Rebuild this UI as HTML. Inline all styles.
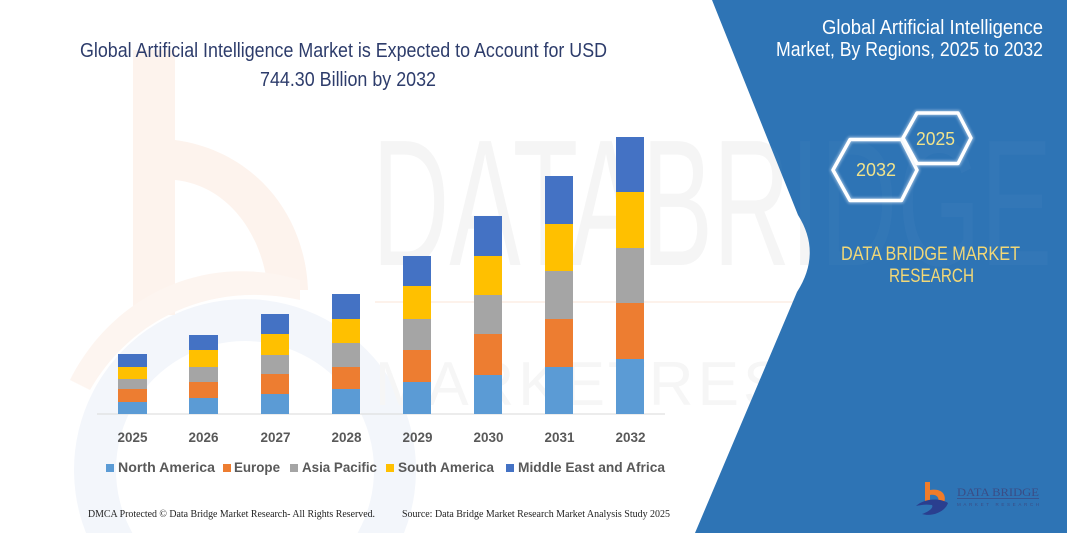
<!DOCTYPE html>
<html><head><meta charset="utf-8"><style>
html,body{margin:0;padding:0;background:#fff;width:1067px;height:533px;overflow:hidden;}
svg{display:block;}
</style></head><body>
<svg width="1067" height="533" viewBox="0 0 1067 533" xmlns="http://www.w3.org/2000/svg">
<defs>
<clipPath id="panel"><path d="M712,0 L1067,0 L1067,533 L695,533 L797,292 Q822,253 798,215 Z"/></clipPath>
<filter id="glow" x="-20%" y="-20%" width="140%" height="140%"><feGaussianBlur stdDeviation="1.2"/></filter>
</defs>
<rect width="1067" height="533" fill="#ffffff"/>
<!-- faint watermark -->
<g>
<path d="M86,533 A171,171 0 1 1 404,533 L357.6,533 A129,129 0 1 0 132.4,533 Z" fill="#f3f6fb"/>
<rect x="133" y="50" width="42" height="265" fill="#fdf3ed"/>
<path d="M175,140 C250,150 305,210 308,290 L268,290 C262,230 225,185 175,180 Z" fill="#fdf3ed"/>
<path d="M70,380 C110,300 200,250 300,280 L300,300 C210,280 130,320 90,390 Z" fill="#fdf5f0"/>
<text x="372" y="265" font-family="Liberation Sans, sans-serif" font-size="180" fill="#f5f5f5" textLength="680" lengthAdjust="spacingAndGlyphs">DATABRIDGE</text>
<rect x="375" y="301" width="440" height="2" fill="#fdf2eb"/>
<text x="375" y="405" font-family="Liberation Sans, sans-serif" font-size="62" fill="#f6f6f6" textLength="640" lengthAdjust="spacing">M A R K E T  R E S E A R C H</text>
</g>
<!-- blue panel -->
<path d="M712,0 L1067,0 L1067,533 L695,533 L797,292 Q822,253 798,215 Z" fill="#2E74B5"/>
<g clip-path="url(#panel)" opacity="0.025">
<text x="372" y="265" font-family="Liberation Sans, sans-serif" font-size="180" fill="#ffffff" textLength="680" lengthAdjust="spacingAndGlyphs">DATABRIDGE</text>
</g>
<!-- left title -->
<text x="80" y="57" font-family="Liberation Sans, sans-serif" font-size="20" fill="#2d3c6b" textLength="527" lengthAdjust="spacingAndGlyphs">Global Artificial Intelligence Market is Expected to Account for USD</text>
<text x="260" y="86" font-family="Liberation Sans, sans-serif" font-size="20" fill="#2d3c6b" textLength="176" lengthAdjust="spacingAndGlyphs">744.30 Billion by 2032</text>
<!-- axis -->
<rect x="97" y="413.5" width="568" height="1" fill="#d9d9d9"/>
<!-- bars -->
<g id="bars">
<rect x="118" y="402" width="29" height="12" fill="#5B9BD5"/>
<rect x="118" y="389" width="29" height="13" fill="#ED7D31"/>
<rect x="118" y="379" width="29" height="10" fill="#A5A5A5"/>
<rect x="118" y="367" width="29" height="12" fill="#FFC000"/>
<rect x="118" y="354" width="29" height="13" fill="#4472C4"/>
<rect x="189" y="398" width="29" height="16" fill="#5B9BD5"/>
<rect x="189" y="382" width="29" height="16" fill="#ED7D31"/>
<rect x="189" y="367" width="29" height="15" fill="#A5A5A5"/>
<rect x="189" y="350" width="29" height="17" fill="#FFC000"/>
<rect x="189" y="335" width="29" height="15" fill="#4472C4"/>
<rect x="261" y="394" width="28" height="20" fill="#5B9BD5"/>
<rect x="261" y="374" width="28" height="20" fill="#ED7D31"/>
<rect x="261" y="355" width="28" height="19" fill="#A5A5A5"/>
<rect x="261" y="334" width="28" height="21" fill="#FFC000"/>
<rect x="261" y="314" width="28" height="20" fill="#4472C4"/>
<rect x="332" y="389" width="28" height="25" fill="#5B9BD5"/>
<rect x="332" y="367" width="28" height="22" fill="#ED7D31"/>
<rect x="332" y="343" width="28" height="24" fill="#A5A5A5"/>
<rect x="332" y="319" width="28" height="24" fill="#FFC000"/>
<rect x="332" y="294" width="28" height="25" fill="#4472C4"/>
<rect x="403" y="382" width="28" height="32" fill="#5B9BD5"/>
<rect x="403" y="350" width="28" height="32" fill="#ED7D31"/>
<rect x="403" y="319" width="28" height="31" fill="#A5A5A5"/>
<rect x="403" y="286" width="28" height="33" fill="#FFC000"/>
<rect x="403" y="256" width="28" height="30" fill="#4472C4"/>
<rect x="474" y="375" width="28" height="39" fill="#5B9BD5"/>
<rect x="474" y="334" width="28" height="41" fill="#ED7D31"/>
<rect x="474" y="295" width="28" height="39" fill="#A5A5A5"/>
<rect x="474" y="256" width="28" height="39" fill="#FFC000"/>
<rect x="474" y="216" width="28" height="40" fill="#4472C4"/>
<rect x="545" y="367" width="28" height="47" fill="#5B9BD5"/>
<rect x="545" y="319" width="28" height="48" fill="#ED7D31"/>
<rect x="545" y="271" width="28" height="48" fill="#A5A5A5"/>
<rect x="545" y="224" width="28" height="47" fill="#FFC000"/>
<rect x="545" y="176" width="28" height="48" fill="#4472C4"/>
<rect x="616" y="359" width="28" height="55" fill="#5B9BD5"/>
<rect x="616" y="303" width="28" height="56" fill="#ED7D31"/>
<rect x="616" y="248" width="28" height="55" fill="#A5A5A5"/>
<rect x="616" y="192" width="28" height="56" fill="#FFC000"/>
<rect x="616" y="137" width="28" height="55" fill="#4472C4"/>
</g>
<!-- year labels -->
<g font-family="Liberation Sans, sans-serif" font-size="14" font-weight="bold" fill="#595959">
<text x="117.5" y="442" textLength="30" lengthAdjust="spacingAndGlyphs">2025</text>
<text x="188.5" y="442" textLength="30" lengthAdjust="spacingAndGlyphs">2026</text>
<text x="260.5" y="442" textLength="30" lengthAdjust="spacingAndGlyphs">2027</text>
<text x="331.5" y="442" textLength="30" lengthAdjust="spacingAndGlyphs">2028</text>
<text x="402.5" y="442" textLength="30" lengthAdjust="spacingAndGlyphs">2029</text>
<text x="473.5" y="442" textLength="30" lengthAdjust="spacingAndGlyphs">2030</text>
<text x="544.5" y="442" textLength="30" lengthAdjust="spacingAndGlyphs">2031</text>
<text x="615.5" y="442" textLength="30" lengthAdjust="spacingAndGlyphs">2032</text>
</g>
<!-- legend -->
<rect x="106" y="464" width="8" height="8" fill="#5B9BD5"/>
<rect x="223" y="464" width="8" height="8" fill="#ED7D31"/>
<rect x="290" y="464" width="8" height="8" fill="#A5A5A5"/>
<rect x="386" y="464" width="8" height="8" fill="#FFC000"/>
<rect x="506" y="464" width="8" height="8" fill="#4472C4"/>
<g font-family="Liberation Sans, sans-serif" font-size="14" font-weight="bold" fill="#595959">
<text x="118" y="472" textLength="97" lengthAdjust="spacingAndGlyphs">North America</text>
<text x="234" y="472" textLength="46" lengthAdjust="spacingAndGlyphs">Europe</text>
<text x="302" y="472" textLength="75" lengthAdjust="spacingAndGlyphs">Asia Pacific</text>
<text x="398" y="472" textLength="96" lengthAdjust="spacingAndGlyphs">South America</text>
<text x="518" y="472" textLength="147" lengthAdjust="spacingAndGlyphs">Middle East and Africa</text>
</g>
<!-- footer -->
<g font-family="Liberation Serif, serif" font-size="10" fill="#222">
<text x="88" y="517" textLength="287" lengthAdjust="spacingAndGlyphs">DMCA Protected © Data Bridge Market Research-  All Rights Reserved.</text>
<text x="402" y="517" textLength="268" lengthAdjust="spacingAndGlyphs">Source: Data Bridge Market Research  Market Analysis Study 2025</text>
</g>
<!-- right title -->
<g font-family="Liberation Sans, sans-serif" font-size="20" fill="#ffffff">
<text x="822" y="34" textLength="221" lengthAdjust="spacingAndGlyphs">Global Artificial Intelligence</text>
<text x="776" y="56" textLength="267" lengthAdjust="spacingAndGlyphs">Market, By Regions, 2025 to 2032</text>
</g>
<!-- hexagons -->
<g fill="none" stroke-linejoin="round">
<polygon points="833,170 850,139.5 901.5,139.5 917,170 901.5,200.5 850,200.5" stroke="#dbe8f6" stroke-width="6" opacity="0.5" filter="url(#glow)"/>
<polygon points="833,170 850,139.5 901.5,139.5 917,170 901.5,200.5 850,200.5" stroke="#ffffff" stroke-width="3.5"/>
<polygon points="903,138 917,113 958,113 971,138 958,163.5 917,163.5" stroke="#dbe8f6" stroke-width="6" opacity="0.5" filter="url(#glow)"/>
<polygon points="903,138 917,113 958,113 971,138 958,163.5 917,163.5" stroke="#ffffff" stroke-width="3.5"/>
</g>
<g font-family="Liberation Sans, sans-serif" font-size="18" fill="#F1E38C">
<text x="856" y="176" textLength="40" lengthAdjust="spacingAndGlyphs">2032</text>
<text x="916" y="145" textLength="39" lengthAdjust="spacingAndGlyphs">2025</text>
</g>
<g font-family="Liberation Sans, sans-serif" font-size="19" fill="#F2D877">
<text x="841" y="260" textLength="179" lengthAdjust="spacingAndGlyphs">DATA BRIDGE MARKET</text>
<text x="889" y="282" textLength="85" lengthAdjust="spacingAndGlyphs">RESEARCH</text>
</g>
<!-- logo -->
<g>
<rect x="925" y="482" width="5" height="20" fill="#F07C2A"/>
<path d="M930,490 C942,488 947,495 944,503 L938,503 C940,497 936,494 930,495 Z" fill="#F07C2A"/>
<path d="M916,506 C925,498 940,498 948,503 C945,512 932,517 922,514 C928,512 934,508 932,505 C926,504 920,505 916,506 Z" fill="#2A3F8F"/>
<text x="957" y="496" font-family="Liberation Serif, serif" font-size="12" fill="#3a4d86" textLength="82" lengthAdjust="spacingAndGlyphs">DATA BRIDGE</text>
<rect x="957" y="498" width="82" height="0.8" fill="#3a4d86"/>
<text x="957" y="506" font-family="Liberation Sans, sans-serif" font-size="4.5" fill="#3a4d86" textLength="82" lengthAdjust="spacing">MARKET RESEARCH</text>
</g>
</svg>
</body></html>
